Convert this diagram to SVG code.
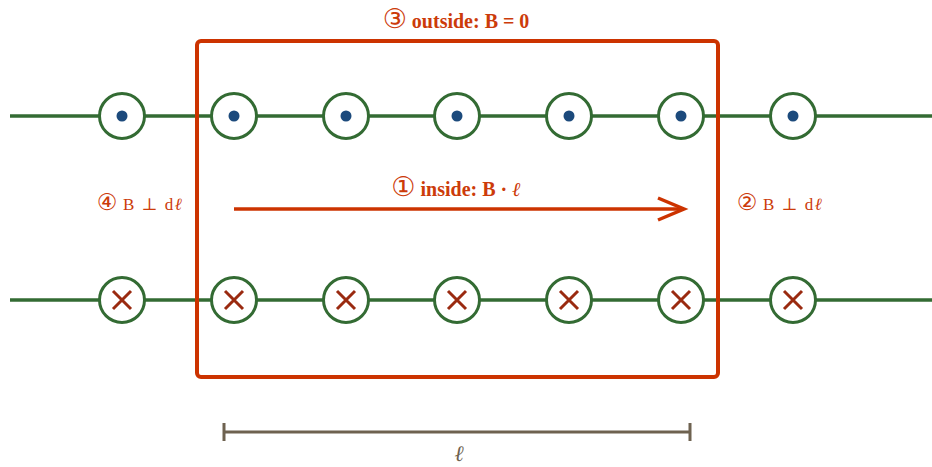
<svg xmlns="http://www.w3.org/2000/svg" width="932" height="467" viewBox="0 0 932 467">
<style>
.wire{stroke:#336b33;stroke-width:3.5;fill:none}
.ring{stroke:#336b33;stroke-width:3;fill:#fff}
.dot{fill:#1c4a7c}
.x{stroke:#9a2a10;stroke-width:3;fill:none}
.lbl{font-family:"Liberation Serif","DejaVu Serif",serif;fill:#cc3b0a}
.b{font-weight:bold;font-size:20px}
.s{font-size:17px;letter-spacing:1.5px}
.n{font-family:"DejaVu Sans",sans-serif;font-weight:normal;font-size:1.35em;letter-spacing:0}
</style>
<defs>
<g id="out"><circle r="22.5" class="ring"/><circle r="5.5" class="dot"/></g>
<g id="in"><circle r="22.5" class="ring"/><path d="M-9,-9L9,9M9,-9L-9,9" class="x"/></g>
</defs>
<g id="connectors">
<line x1="10" y1="116" x2="932" y2="116" class="wire"/>
<line x1="10" y1="300" x2="932" y2="300" class="wire"/>
<line x1="234" y1="209" x2="684" y2="209" stroke="#cc3300" stroke-width="3.5"/>
<path d="M658,198L684,209L658,220" fill="none" stroke="#cc3300" stroke-width="3.5"/>
</g>
<g id="top-wires">
<use href="#out" x="122" y="116"/>
<use href="#out" x="234" y="116"/>
<use href="#out" x="346" y="116"/>
<use href="#out" x="457" y="116"/>
<use href="#out" x="569" y="116"/>
<use href="#out" x="681" y="116"/>
<use href="#out" x="793" y="116"/>
</g>
<g id="bottom-wires">
<use href="#in" x="122" y="300"/>
<use href="#in" x="234" y="300"/>
<use href="#in" x="346" y="300"/>
<use href="#in" x="457" y="300"/>
<use href="#in" x="569" y="300"/>
<use href="#in" x="681" y="300"/>
<use href="#in" x="793" y="300"/>
</g>
<g id="loop">
<rect x="197" y="41" width="521" height="336" rx="4" fill="none" stroke="#cc3300" stroke-width="4"/>
</g>
<g id="labels">
<text x="456" y="28" text-anchor="middle" class="lbl b"><tspan class="n">③</tspan> outside: B = 0</text>
<text x="456" y="196" text-anchor="middle" class="lbl b"><tspan class="n">①</tspan> inside: B · <tspan font-style="italic">ℓ</tspan></text>
<text x="140" y="210" text-anchor="middle" class="lbl s"><tspan class="n">④</tspan> B ⊥ d<tspan font-style="italic">ℓ</tspan></text>
<text x="780" y="210" text-anchor="middle" class="lbl s"><tspan class="n">②</tspan> B ⊥ d<tspan font-style="italic">ℓ</tspan></text>
</g>
<g id="length">
<path d="M224,432H690M224,423V441M690,423V441" stroke="#6e6250" stroke-width="3" fill="none"/>
<text x="459" y="461" text-anchor="middle" font-family="Liberation Serif,DejaVu Serif,serif" font-style="italic" font-size="22" fill="#6e6250">ℓ</text>
</g>
</svg>
